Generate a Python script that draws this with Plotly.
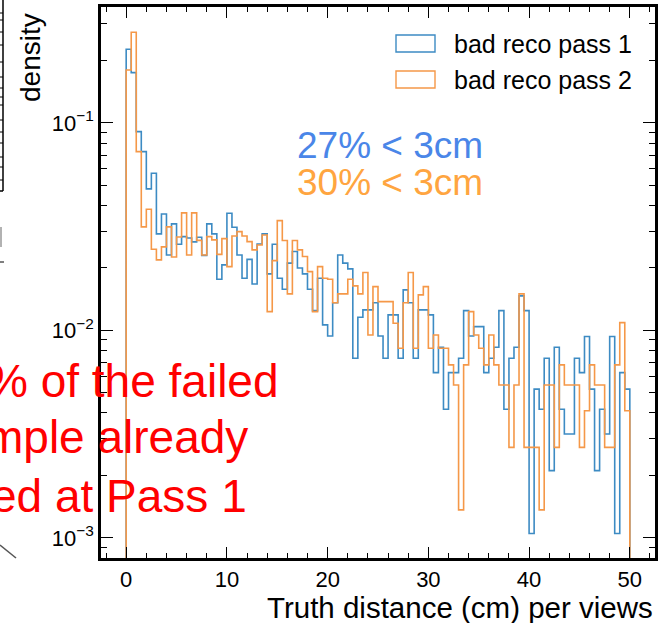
import numpy as np
import plotly.graph_objects as go

# ---- histogram data (density per 0.5 cm bin, 0-50 cm) ----
BIN_START = 0.0
BIN_WIDTH = 0.5
N_BINS = 100

pass1_density = [
    0.2265, 0.1747, 0.0908, 0.0727, 0.0481, 0.0572, 0.0292, 0.0364, 0.0231, 0.0326,
    0.0260, 0.0283, 0.0279, 0.0267, 0.0281, 0.0230, 0.0326, 0.0292, 0.01765, 0.0207,
    0.0367, 0.0314, 0.0231, 0.01785, 0.0220, 0.01675, 0.0261, 0.0292, 0.01872, 0.0260,
    0.01785, 0.0158, 0.0211, 0.0240, 0.0200, 0.01872, 0.0158, 0.01246, 0.01785, 0.01063,
    0.0094, 0.0136, 0.0231, 0.0211, 0.0198, 0.00734, 0.01158, 0.01256, 0.01256, 0.0136,
    0.0094, 0.00734, 0.01188, 0.01188, 0.00734, 0.01568, 0.0136, 0.00734, 0.01256, 0.01256,
    0.01188, 0.00626, 0.0083, 0.00417, 0.00626, 0.00626, 0.00734, 0.01246, 0.0094, 0.01043,
    0.01043, 0.00626, 0.00734, 0.0083, 0.01246, 0.00417, 0.00734, 0.0083, 0.01467, 0.01246,
    0.00105, 0.00521, 0.00417, 0.00734, 0.00211, 0.0083, 0.00417, 0.00317, 0.00317, 0.00734,
    0.00626, 0.00934, 0.00521, 0.00211, 0.00417, 0.00317, 0.00934, 0.00105, 0.00626, 0.00521,
]

pass2_density = [
    0.1800, 0.2736, 0.0727, 0.03155, 0.03838, 0.02462, 0.02187, 0.02526, 0.03155, 0.0226,
    0.0282, 0.03684, 0.0231, 0.03684, 0.02715, 0.0231, 0.0283, 0.0273, 0.02324, 0.0277,
    0.0203, 0.02853, 0.02993, 0.02853, 0.0268, 0.02443, 0.0258, 0.02885, 0.01232, 0.0217,
    0.0338, 0.0271, 0.0150, 0.0271, 0.02443, 0.0227, 0.0192, 0.01232, 0.0203, 0.01785,
    0.01765, 0.0136, 0.0150, 0.0150, 0.01765, 0.01639, 0.0150, 0.0190, 0.00951, 0.01626,
    0.01377, 0.01377, 0.01377, 0.01083, 0.0082, 0.0136, 0.0190, 0.0082, 0.01483, 0.01626,
    0.0082, 0.00951, 0.0082, 0.0082, 0.00682, 0.00546, 0.001365, 0.00682, 0.01232, 0.00951,
    0.0082, 0.00682, 0.00951, 0.00682, 0.00546, 0.00546, 0.00273, 0.00546, 0.0150, 0.00273,
    0.00273, 0.00273, 0.001365, 0.00546, 0.00546, 0.00273, 0.00682, 0.00546, 0.00546, 0.00546,
    0.00273, 0.0041, 0.00682, 0.00546, 0.00546, 0.00273, 0.00273, 0.00682, 0.0109, 0.0041,
]

series_names = ["bad reco pass 1", "bad reco pass 2"]
fraction_labels = ["27% < 3cm", "30% < 3cm"]
x_tick_values = [0, 10, 20, 30, 40, 50]
y_tick_values = [1e-3, 1e-2, 1e-1]
y_tick_text = ["10<sup>\u22123</sup>", "10<sup>\u22122</sup>", "10<sup>\u22121</sup>"]
note_lines = ["% of the failed", "mple already", "ed at Pass 1"]

# ---- styling ----
W, H = 660, 623
L, R, T, B = 101, 5, 7, 65
FONT = "Liberation Sans, Arial, Helvetica, sans-serif"
LINE_BLUE = "#3d8bc3"
LINE_ORANGE = "#f59848"
TEXT_BLUE = "#4a86e8"
TEXT_ORANGE = "#ffa540"
FLOOR = 1e-6  # below the visible range: closes the step outline at the edges

plot_w = W - L - R
plot_h = H - T - B


def px_x(px):
    return (px - L) / plot_w


def px_y(py):
    return (H - B - py) / plot_h


edges = BIN_START + BIN_WIDTH * np.arange(N_BINS + 1)


def step_outline(values):
    xs = np.concatenate([[edges[0]], edges[:-1], [edges[-1], edges[-1]]])
    ys = np.concatenate([[FLOOR], values, [values[-1], FLOOR]])
    return xs, ys


fig = go.Figure()
for vals, name, color in [(pass1_density, series_names[0], LINE_BLUE),
                          (pass2_density, series_names[1], LINE_ORANGE)]:
    xs, ys = step_outline(np.asarray(vals))
    fig.add_trace(go.Scatter(
        x=xs, y=ys, mode="lines", name=name, showlegend=False,
        line=dict(color=color, width=1.6, shape="hv"),
    ))

fig.update_xaxes(
    range=[-2.5, 52.5], tickvals=x_tick_values, ticks="inside", ticklen=11,
    tickwidth=1.3, tickcolor="black", showline=True, linecolor="black",
    linewidth=2.5, mirror="allticks", showgrid=False, zeroline=False,
    tickfont=dict(family=FONT, size=22, color="black"),
    minor=dict(ticks="inside", ticklen=5, tickwidth=1, tickcolor="black",
               dtick=2, tick0=0, showgrid=False),
)
fig.update_yaxes(
    type="log", range=[np.log10(8.0e-4), np.log10(0.362)],
    tickvals=y_tick_values, ticktext=y_tick_text, ticks="inside", ticklen=12,
    tickwidth=1.3, tickcolor="black", showline=True, linecolor="black",
    linewidth=2.5, mirror="allticks", showgrid=False, zeroline=False,
    tickfont=dict(family=FONT, size=22, color="black"),
    minor=dict(ticks="inside", ticklen=6, tickwidth=1, tickcolor="black",
               dtick="D1", showgrid=False),
)

shapes = []
annotations = []

# legend with outlined patches
for i, (name, color) in enumerate([(series_names[0], LINE_BLUE), (series_names[1], LINE_ORANGE)]):
    top = 35 + i * 36
    shapes.append(dict(type="rect", xref="paper", yref="paper",
                       x0=px_x(396), x1=px_x(435), y0=px_y(top + 17), y1=px_y(top),
                       line=dict(color=color, width=1.4), fillcolor="rgba(0,0,0,0)"))
    annotations.append(dict(text=name, xref="paper", yref="paper",
                            x=px_x(452), y=px_y(top + 9), xanchor="left", yanchor="middle",
                            showarrow=False, font=dict(family=FONT, size=25, color="black")))

# fractions below 3 cm
for label, color, cy in [(fraction_labels[0], TEXT_BLUE, 145), (fraction_labels[1], TEXT_ORANGE, 182)]:
    annotations.append(dict(text=label.replace("<", "&lt;"), xref="paper", yref="paper",
                            x=px_x(295), y=px_y(cy), xanchor="left", yanchor="middle",
                            showarrow=False, font=dict(family=FONT, size=37, color=color)))

# axis titles
annotations.append(dict(text="Truth distance (cm) per views", xref="paper", yref="paper",
                        x=1.0, y=px_y(607), xanchor="right", yanchor="middle",
                        showarrow=False, font=dict(family=FONT, size=29.5, color="black")))
annotations.append(dict(text="density", xref="paper", yref="paper", textangle=-90,
                        x=px_x(30), y=px_y(58), xanchor="center", yanchor="middle",
                        showarrow=False, font=dict(family=FONT, size=28, color="black")))

# red note overlapping the panel
for line, right, cy in zip(note_lines, [281, 250, 249], [381, 437, 496]):
    annotations.append(dict(text=line, xref="paper", yref="paper",
                            x=px_x(right), y=px_y(cy), xanchor="right", yanchor="middle",
                            showarrow=False, font=dict(family=FONT, size=46, color="#ff0000")))

# edge of the neighbouring panel at the far left
shapes.append(dict(type="line", xref="paper", yref="paper", x0=px_x(3), x1=px_x(3),
                   y0=px_y(0), y1=px_y(191), line=dict(color="black", width=1.5)))
shapes.append(dict(type="line", xref="paper", yref="paper", x0=px_x(0), x1=px_x(3),
                   y0=px_y(191), y1=px_y(191), line=dict(color="black", width=1.5)))
for ty in [13, 20, 32, 45, 62, 77, 88, 97, 105, 120, 132, 143, 157, 167, 180]:
    shapes.append(dict(type="line", xref="paper", yref="paper", x0=px_x(0), x1=px_x(3),
                       y0=px_y(ty), y1=px_y(ty), line=dict(color="black", width=1)))
shapes.append(dict(type="line", xref="paper", yref="paper", x0=px_x(1), x1=px_x(1),
                   y0=px_y(227), y1=px_y(247), line=dict(color="#999999", width=1.5)))
shapes.append(dict(type="line", xref="paper", yref="paper", x0=px_x(0), x1=px_x(4),
                   y0=px_y(262), y1=px_y(262), line=dict(color="black", width=1)))
shapes.append(dict(type="line", xref="paper", yref="paper", x0=px_x(0), x1=px_x(16),
                   y0=px_y(545), y1=px_y(558), line=dict(color="#555555", width=1.5)))

fig.update_layout(
    width=W, height=H, margin=dict(l=L, r=R, t=T, b=B, autoexpand=False),
    paper_bgcolor="white", plot_bgcolor="white",
    shapes=shapes, annotations=annotations, showlegend=False,
)

fig.write_html("out.html")
